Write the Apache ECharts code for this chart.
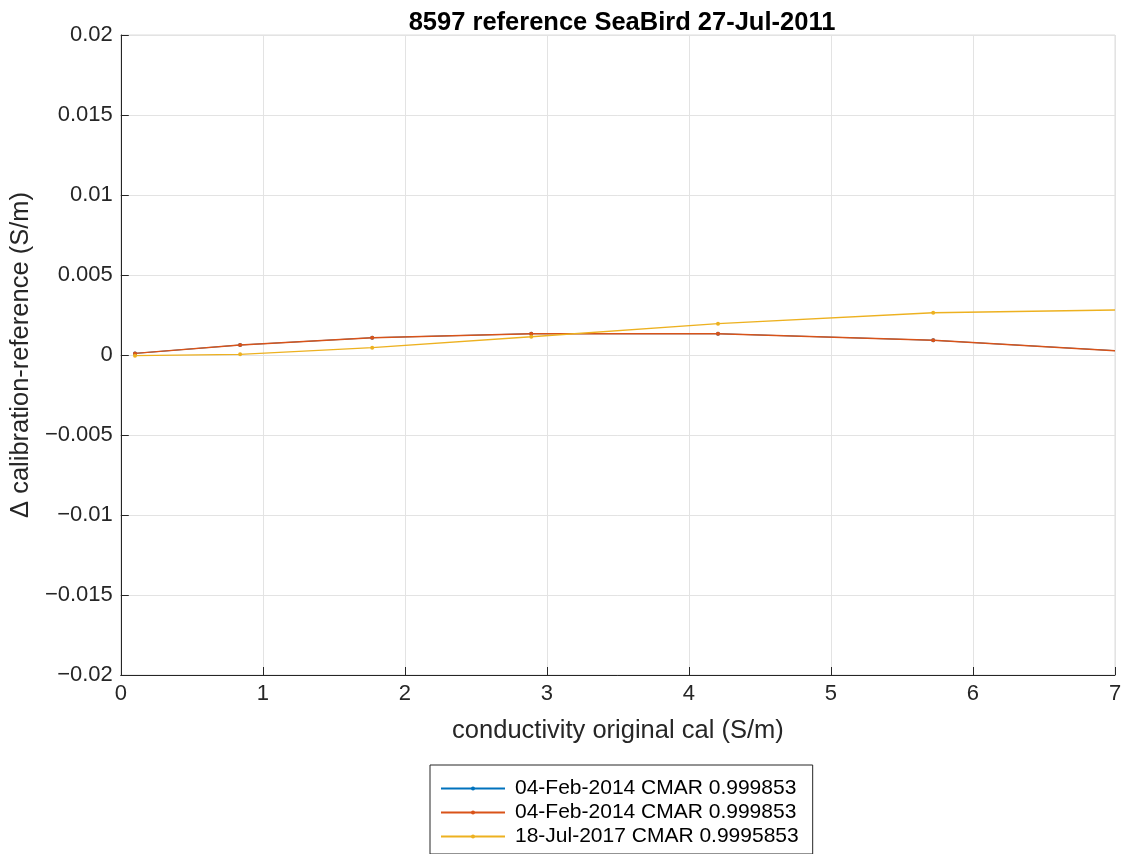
<!DOCTYPE html>
<html>
<head>
<meta charset="utf-8">
<script src="https://cdn.jsdelivr.net/npm/echarts@6/dist/echarts.min.js"></script>
<style>
  html, body { margin: 0; padding: 0; background: #fff; }
  #chart { width: 1128px; height: 854px; }
</style>
</head>
<body>
<div id="chart"></div>
<script>
// Conductivity at each calibration point (S/m)
const condX = [0.10, 0.84, 1.77, 2.89, 4.205, 5.72, 7.0];
// Calibration minus reference (S/m)
const feb2014a = [0.0001, 0.000625, 0.00108, 0.00133, 0.00133, 0.00092, 0.00027];
const feb2014b = [0.0001, 0.000625, 0.00108, 0.00133, 0.00133, 0.00092, 0.00027];
const jul2017 = [-0.00004, 0.00004, 0.00046, 0.00114, 0.00196, 0.00264, 0.00281];
const seriesLabels = [
  '04-Feb-2014 CMAR 0.999853',
  '04-Feb-2014 CMAR 0.999853',
  '18-Jul-2017 CMAR 0.9995853'
];
const seriesColors = ['#0072BD', '#D95319', '#EDB120'];
const lineWidths = [1.0, 1.4, 1.4];
const yTicks = [-0.02, -0.015, -0.01, -0.005, 0, 0.005, 0.01, 0.015, 0.02];

// legend entries must have unique keys; the index suffix is stripped when drawn
const seriesKeys = seriesLabels.map((l, i) => l + '#' + i);

const font = '"Liberation Sans", Arial, Helvetica, sans-serif';

function pairs(ys) {
  // last sample sits on the right edge without a marker
  return condX.map((x, i) => i === condX.length - 1
    ? { value: [x, ys[i]], symbolSize: 0 }
    : [x, ys[i]]);
}

function lineSeries(i, ys) {
  const color = seriesColors[i];
  return {
    name: seriesKeys[i],
    type: 'line',
    data: pairs(ys),
    z: 2 + i,
    color: color,
    lineStyle: { color: color, width: lineWidths[i] },
    itemStyle: { color: color },
    symbol: 'circle',
    symbolSize: 4,
    showSymbol: true,
    clip: true,
    animation: false
  };
}

function tickText(v) {
  const t = yTicks.find(k => Math.abs(k - v) < 1e-9);
  const s = String(parseFloat((t !== undefined ? t : v).toFixed(3)));
  return s.replace('-', '\u2212');
}

const chart = echarts.init(document.getElementById('chart'));
chart.setOption({
  backgroundColor: '#fff',
  animation: false,
  title: {
    text: '8597 reference SeaBird 27-Jul-2011',
    left: 617,
    textAlign: 'center',
    top: 5,
    textStyle: { fontFamily: font, fontSize: 25.5, fontWeight: 'bold', color: '#000' }
  },
  grid: {
    left: 120, right: 13, top: 35, bottom: 179,
    show: true, borderColor: '#dcdcdc', borderWidth: 1, backgroundColor: '#fff'
  },
  legend: {
    orient: 'vertical',
    left: 430, top: 765,
    data: seriesKeys.map(k => ({ name: k })),
    formatter: k => k.replace(/#\d+$/, ''),
    itemWidth: 64, itemHeight: 5, itemGap: 1,
    padding: [12, 14, 6, 10],
    borderColor: '#262626', borderWidth: 1,
    backgroundColor: '#fff',
    textStyle: { fontFamily: font, fontSize: 21, color: '#000', lineHeight: 23, padding: [0, 0, 0, 5] },
    selectedMode: false
  },
  xAxis: {
    type: 'value', min: 0, max: 7, interval: 1,
    name: 'conductivity original cal (S/m)',
    nameLocation: 'middle', nameGap: 43,
    nameTextStyle: { fontFamily: font, fontSize: 25.5, color: '#262626' },
    axisLine: { show: true, onZero: false, lineStyle: { color: '#262626' } },
    axisTick: { show: true, inside: true, length: 8, lineStyle: { color: '#262626' } },
    axisLabel: { fontFamily: font, fontSize: 22, color: '#262626', margin: 8 },
    splitLine: { show: true, lineStyle: { color: '#e3e3e3', width: 1 } }
  },
  yAxis: {
    type: 'value', min: -0.02, max: 0.02, interval: 0.005,
    name: '\u0394 calibration-reference (S/m)',
    nameLocation: 'middle', nameGap: 83, nameRotate: 90,
    nameTextStyle: { fontFamily: font, fontSize: 25.5, color: '#262626' },
    axisLine: { show: true, onZero: false, lineStyle: { color: '#262626' } },
    axisTick: { show: true, inside: true, length: 8, lineStyle: { color: '#262626' } },
    axisLabel: { fontFamily: font, fontSize: 22, color: '#262626', margin: 8, formatter: tickText },
    splitLine: { show: true, lineStyle: { color: '#e3e3e3', width: 1 } }
  },
  series: [
    lineSeries(0, feb2014a),
    lineSeries(1, feb2014b),
    lineSeries(2, jul2017)
  ]
});
</script>
</body>
</html>
